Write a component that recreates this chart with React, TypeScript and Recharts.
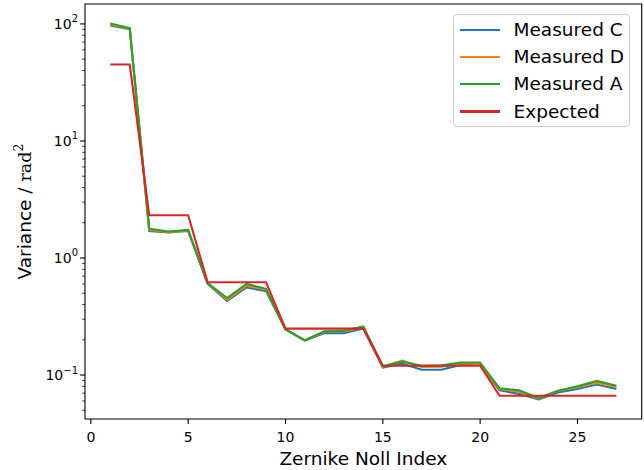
import { LineChart, Line, XAxis, YAxis, ReferenceArea, Legend } from 'recharts'

const nollIndex = [1, 2, 3, 4, 5, 6, 7, 8, 9, 10, 11, 12, 13, 14, 15, 16, 17, 18, 19, 20, 21, 22, 23, 24, 25, 26, 27]

const measuredC = [97, 90, 1.70, 1.65, 1.70, 0.60, 0.43, 0.56, 0.52, 0.245, 0.197, 0.228, 0.228, 0.25, 0.116, 0.125, 0.111, 0.111, 0.122, 0.122, 0.074, 0.069, 0.062, 0.071, 0.076, 0.083, 0.076]
const measuredD = [99, 91, 1.74, 1.66, 1.72, 0.61, 0.44, 0.58, 0.535, 0.247, 0.198, 0.234, 0.236, 0.255, 0.118, 0.133, 0.117, 0.118, 0.126, 0.124, 0.076, 0.072, 0.063, 0.073, 0.079, 0.086, 0.079]
const measuredA = [101, 92, 1.78, 1.68, 1.74, 0.61, 0.455, 0.60, 0.545, 0.245, 0.198, 0.236, 0.239, 0.26, 0.119, 0.13, 0.12, 0.121, 0.128, 0.128, 0.077, 0.074, 0.0636, 0.0734, 0.08, 0.089, 0.081]
const expected = [45, 45, 2.32, 2.32, 2.32, 0.62, 0.62, 0.62, 0.62, 0.249, 0.249, 0.249, 0.249, 0.249, 0.12, 0.12, 0.12, 0.12, 0.12, 0.12, 0.0665, 0.0665, 0.0665, 0.0665, 0.0665, 0.0665, 0.0665]

const xTicks = [0, 5, 10, 15, 20, 25]
const yMajorTicks = [0.1, 1, 10, 100]
const yMajorExponents = ['\u22121', '0', '1', '2']
const yMinorTicks = [
    0.05, 0.06, 0.07, 0.08, 0.09,
    0.2, 0.3, 0.4, 0.5, 0.6, 0.7, 0.8, 0.9,
    2, 3, 4, 5, 6, 7, 8, 9,
    20, 30, 40, 50, 60, 70, 80, 90,
]

const series = [
    { key: 'c', name: 'Measured C', color: '#1f77b4' },
    { key: 'd', name: 'Measured D', color: '#ff7f0e' },
    { key: 'a', name: 'Measured A', color: '#2ca02c' },
    { key: 'e', name: 'Expected', color: '#d62728' },
]

const data = nollIndex.map((n, i) => ({
    n,
    c: measuredC[i],
    d: measuredD[i],
    a: measuredA[i],
    e: expected[i],
}))

const FONT = '"DejaVu Sans", sans-serif'
const X_DOMAIN: [number, number] = [-0.3, 28.3]
const Y_DOMAIN: [number, number] = [0.0421, 148]

function YTick({ x, y, payload }: any) {
    const idx = yMajorTicks.indexOf(payload.value)
    if (idx < 0) {
        return <line x1={x - 2.8} x2={x} y1={y} y2={y} stroke="#000" strokeWidth={0.8} />
    }
    return (
        <g>
            <line x1={x - 4.9} x2={x} y1={y} y2={y} stroke="#000" strokeWidth={1.1} />
            <text x={x - 7} y={y + 5} textAnchor="end" fontFamily={FONT} fontSize={14} fill="#000">
                10<tspan dy={-6.5} fontSize={10}>{yMajorExponents[idx]}</tspan>
            </text>
        </g>
    )
}

function XTick({ x, y, payload }: any) {
    return (
        <g>
            <line x1={x} x2={x} y1={y} y2={y + 4.9} stroke="#000" strokeWidth={1.1} />
            <text x={x} y={y + 23} textAnchor="middle" fontFamily={FONT} fontSize={14} fill="#000">
                {payload.value}
            </text>
        </g>
    )
}

function XLabel() {
    return (
        <text x={363.3} y={465} textAnchor="middle" fontFamily={FONT} fontSize={18.5} fill="#000">
            Zernike Noll Index
        </text>
    )
}

function YLabel() {
    return (
        <text transform="translate(31 211.5) rotate(-90)" textAnchor="middle" fontFamily={FONT} fontSize={18.5} fill="#000">
            Variance / <tspan fontFamily='"DejaVu Serif", serif' fontSize={17.5}>rad</tspan>
            <tspan fontFamily='"DejaVu Serif", serif' fontSize={12.5} dy={-8}>2</tspan>
        </text>
    )
}

function LegendBox() {
    return (
        <div style={{
            width: 177,
            height: 113,
            boxSizing: 'border-box',
            border: '1px solid #cccccc',
            borderRadius: 4,
            background: 'rgba(255,255,255,0.8)',
            padding: '1px 0 0 6px',
            fontFamily: FONT,
            fontSize: 18.5,
        }}>
            {series.map(s => (
                <div key={s.key} style={{ display: 'flex', alignItems: 'center', height: 27.3 }}>
                    <div style={{ width: 40, height: 2.1, background: s.color, marginRight: 13.5 }} />
                    <span style={{ lineHeight: '20px' }}>{s.name}</span>
                </div>
            ))}
        </div>
    )
}

export default function App() {
    return (
        <div style={{ position: 'absolute', left: 0, top: 0, width: 644, height: 470, background: '#fff' }}>
            <LineChart width={644} height={470} data={data} margin={{ top: 4, right: 2.3, left: 0, bottom: 0 }}>
                <XAxis
                    dataKey="n"
                    type="number"
                    domain={X_DOMAIN}
                    ticks={xTicks}
                    interval={0}
                    height={51}
                    axisLine={false}
                    tickLine={false}
                    tickSize={0}
                    tickMargin={0}
                    tick={<XTick />}
                    label={<XLabel />}
                    allowDataOverflow
                />
                <YAxis
                    type="number"
                    scale="log"
                    domain={Y_DOMAIN}
                    ticks={[...yMajorTicks, ...yMinorTicks]}
                    interval={0}
                    width={85}
                    axisLine={false}
                    tickLine={false}
                    tickSize={0}
                    tickMargin={0}
                    tick={<YTick />}
                    label={<YLabel />}
                    allowDataOverflow
                />
                <ReferenceArea
                    x1={X_DOMAIN[0]}
                    x2={X_DOMAIN[1]}
                    y1={Y_DOMAIN[0]}
                    y2={Y_DOMAIN[1]}
                    fill="none"
                    stroke="#000"
                    strokeWidth={1.1}
                />
                {series.map(s => (
                    <Line
                        key={s.key}
                        type="linear"
                        dataKey={s.key}
                        name={s.name}
                        stroke={s.color}
                        strokeWidth={2.1}
                        dot={false}
                        activeDot={false}
                        isAnimationActive={false}
                    />
                ))}
                <Legend
                    layout="vertical"
                    align="center"
                    verticalAlign="middle"
                    content={<LegendBox />}
                    wrapperStyle={{ left: 453, top: 14, width: 177, height: 113 }}
                />
            </LineChart>
        </div>
    )
}
